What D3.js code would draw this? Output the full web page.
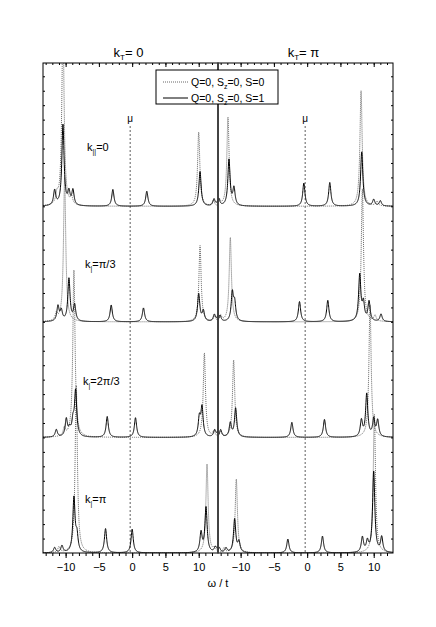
<!DOCTYPE html>
<html><head><meta charset="utf-8">
<script src="https://cdn.jsdelivr.net/npm/d3@7"></script>
<style>body{margin:0;background:#fff;} svg{display:block;font-family:"Liberation Sans",Arial,sans-serif;}</style>
</head><body><svg id="c" width="436" height="627"></svg>
<script>
// ---------- data ----------
const kTLabels = ["0", "π"];
const kParLabels = [["||", "=0"], ["|", "=π/3"], ["|", "=2π/3"], ["|", "=π"]];
const xMajorTicks = [-10, -5, 0, 5, 10];
const xMinorTicks = d3.range(-13, 13, 1);
const muPos = -0.3;
const spectrumOffsets = [3, 2, 1, 0];

// k_T = 0 : solid (S=1) peaks, positions and weights, one list per k_par
const solidPosKT0 = [
  [-11.65, -10.4, -9.5, -8.9, -2.9, 2.2, 10.2, 12.3, 12.9],
  [-11.15, -10.65, -9.5, -8.65, -3.15, 1.7, 10.0, 10.7, 12.35, 12.9],
  [-11.4, -9.9, -9.4, -8.9, -8.5, -3.75, 0.5, 10.1, 10.5, 12.4, 12.9],
  [-11.65, -10.55, -8.75, -8.3, -4.0, 0.0, 10.35, 11.1, 12.5, 12.9]
];
const solidAmpKT0 = [
  [0.13, 0.7, 0.11, 0.13, 0.145, 0.13, 0.3, 0.06, 0.045],
  [0.13, 0.09, 0.37, 0.14, 0.145, 0.12, 0.24, 0.09, 0.06, 0.045],
  [0.065, 0.15, 0.06, 0.12, 0.39, 0.18, 0.17, 0.16, 0.25, 0.06, 0.045],
  [0.045, 0.06, 0.47, 0.14, 0.21, 0.205, 0.17, 0.39, 0.045, 0.035]
];
// k_T = 0 : dotted (S=0) peaks
const dotPosKT0 = [
  [-11.3, -10.4, -9.1, 10.0, 12.2],
  [-11.4, -10.15, 10.2, 12.4],
  [-10.2, -8.75, 10.85, 12.3],
  [-11.0, -8.4, 11.25, 12.4]
];
const dotAmpKT0 = [
  [0.08, 1.6, 0.06, 0.64, 0.05],
  [0.06, 1.25, 0.66, 0.05],
  [0.07, 1.45, 0.73, 0.05],
  [0.05, 1.45, 0.77, 0.04]
];
// k_T = pi : solid peaks
const solidPosKTpi = [
  [-13.3, -11.75, -11.0, -0.5, 3.4, 8.2, 10.0, 11.0],
  [-13.1, -11.25, -10.9, -1.15, 3.1, 7.9, 8.45, 9.3, 11.1],
  [-13.0, -11.55, -10.75, -2.3, 2.6, 8.15, 8.95, 10.0, 10.6],
  [-13.2, -12.2, -10.9, -10.25, -2.9, 2.3, 8.3, 9.05, 10.0, 11.2]
];
const solidAmpKTpi = [
  [0.065, 0.4, 0.15, 0.2, 0.205, 0.47, 0.055, 0.045],
  [0.055, 0.24, 0.15, 0.175, 0.185, 0.4, 0.15, 0.17, 0.065],
  [0.065, 0.12, 0.25, 0.13, 0.155, 0.14, 0.37, 0.15, 0.14],
  [0.045, 0.04, 0.29, 0.09, 0.12, 0.145, 0.13, 0.09, 0.7, 0.13]
];
// k_T = pi : dotted peaks
const dotPosKTpi = [
  [-13.2, -11.9, 8.1, 10.5],
  [-13.0, -11.55, 8.3, 10.2],
  [-13.0, -11.05, 9.45],
  [-12.5, -10.65, 10.1]
];
const dotAmpKTpi = [
  [0.05, 0.77, 1.0, 0.04],
  [0.05, 0.73, 1.15, 0.05],
  [0.05, 0.67, 1.15],
  [0.04, 0.64, 1.2]
];

// ---------- layout ----------
const frame = {left: 43, right: 393, top: 63, bottom: 553};
const mid = 218;
const xDomain = [-13.4, 12.9];
const yMax = 4.24;
const gamma = 0.2;

const svg = d3.select("#c");
const y = d3.scaleLinear().domain([0, yMax]).range([frame.bottom, frame.top]);
const omegas = d3.range(xDomain[0], xDomain[1] + 0.0001, 0.02);
function spectrum(pos, amp) {
  return omegas.map(w => [w, d3.sum(pos, (p, i) => amp[i] * gamma * gamma / ((w - p) * (w - p) + gamma * gamma))]);
}

const panelData = [
  {solidPos: solidPosKT0, solidAmp: solidAmpKT0, dotPos: dotPosKT0, dotAmp: dotAmpKT0},
  {solidPos: solidPosKTpi, solidAmp: solidAmpKTpi, dotPos: dotPosKTpi, dotAmp: dotAmpKTpi}
];

const defs = svg.append("defs");

panelData.forEach((pd, pi) => {
  const x0 = pi === 0 ? frame.left : mid;
  const x1 = pi === 0 ? mid : frame.right;
  const x = d3.scaleLinear().domain(xDomain).range([x0, x1]);
  const g = svg.append("g");
  defs.append("clipPath").attr("id", "clip" + pi).append("rect")
    .attr("x", x0).attr("y", frame.top).attr("width", x1 - x0).attr("height", frame.bottom - frame.top);
  const plot = g.append("g").attr("clip-path", `url(#clip${pi})`);

  // mu dashed line
  plot.append("line").attr("x1", x(muPos)).attr("x2", x(muPos))
    .attr("y1", 126).attr("y2", frame.bottom)
    .attr("stroke", "#333").attr("stroke-width", 0.8).attr("stroke-dasharray", "2,2");
  g.append("text").attr("x", x(muPos)).attr("y", 122).attr("text-anchor", "middle")
    .attr("font-size", 10).text("μ");

  const lineFor = off => d3.line().x(d => x(d[0])).y(d => y(d[1] + off));
  pd.dotPos.forEach((pos, k) => {
    plot.append("path").datum(spectrum(pos, pd.dotAmp[k]))
      .attr("d", lineFor(spectrumOffsets[k])).attr("fill", "none")
      .attr("stroke", "#666").attr("stroke-width", 1).attr("stroke-dasharray", "1,1");
  });
  pd.solidPos.forEach((pos, k) => {
    plot.append("path").datum(spectrum(pos, pd.solidAmp[k]))
      .attr("d", lineFor(spectrumOffsets[k])).attr("fill", "none")
      .attr("stroke", "#000").attr("stroke-width", 1);
  });

  // bottom axis
  const axB = g.append("g").attr("transform", `translate(0,${frame.bottom})`)
    .call(d3.axisBottom(x).tickValues(xMajorTicks).tickSize(5).tickPadding(5).tickFormat(d3.format("d")));
  axB.select(".domain").remove();
  axB.selectAll("text").attr("font-size", 11).attr("font-family", "Liberation Sans, Arial, sans-serif").attr("fill", "#000");
  axB.selectAll("line").attr("stroke", "#000");
  const axBm = g.append("g").attr("transform", `translate(0,${frame.bottom})`)
    .call(d3.axisBottom(x).tickValues(xMinorTicks).tickSize(3).tickFormat(""));
  axBm.select(".domain").remove();
  // top axis (inward)
  const axT = g.append("g").attr("transform", `translate(0,${frame.top})`)
    .call(d3.axisBottom(x).tickValues(xMajorTicks).tickSize(4).tickFormat(""));
  axT.select(".domain").remove();
  const axTm = g.append("g").attr("transform", `translate(0,${frame.top})`)
    .call(d3.axisBottom(x).tickValues(xMinorTicks).tickSize(2).tickFormat(""));
  axTm.select(".domain").remove();

  // frame
  g.append("rect").attr("x", x0).attr("y", frame.top).attr("width", x1 - x0)
    .attr("height", frame.bottom - frame.top).attr("fill", "none").attr("stroke", "#000").attr("stroke-width", 1);

  // title
  const t = svg.append("text").attr("x", (x0 + x1) / 2 - 2).attr("y", 57)
    .attr("text-anchor", "middle").attr("font-size", 13);
  t.append("tspan").text("k");
  t.append("tspan").attr("font-size", 8).attr("dy", 3).text("T");
  t.append("tspan").attr("dy", -3).text("= " + kTLabels[pi]);
});

// outer y ticks (inward)
const yTickVals = d3.range(0.125, yMax, 0.125);
const axL = svg.append("g").attr("transform", `translate(${frame.left},0)`)
  .call(d3.axisRight(y).tickValues(yTickVals).tickSize(2).tickFormat(""));
axL.select(".domain").remove();
const axR = svg.append("g").attr("transform", `translate(${frame.right},0)`)
  .call(d3.axisLeft(y).tickValues(yTickVals).tickSize(2).tickFormat(""));
axR.select(".domain").remove();

// divider
svg.append("line").attr("x1", mid).attr("x2", mid).attr("y1", frame.top).attr("y2", frame.bottom)
  .attr("stroke", "#444").attr("stroke-width", 1.5);

// k_par labels
const labelY = [151, 268, 385, 503];
const labelX = [87, 85, 83, 85];
kParLabels.forEach((lab, i) => {
  const t = svg.append("text").attr("x", labelX[i]).attr("y", labelY[i]).attr("font-size", 11);
  t.append("tspan").text("k");
  t.append("tspan").attr("font-size", 7).attr("dy", 3).text(lab[0]);
  t.append("tspan").attr("dy", -3).text(lab[1]);
});

// legend
const lg = svg.append("g");
lg.append("rect").attr("x", 156).attr("y", 70).attr("width", 122).attr("height", 34)
  .attr("fill", "#fff").attr("stroke", "#000").attr("stroke-width", 1);
const legendItems = [["0", "1,1", "#666", 82], ["1", null, "#000", 98]];
legendItems.forEach(([s, dash, col, yy]) => {
  const ln = lg.append("line").attr("x1", 163).attr("x2", 188).attr("y1", yy).attr("y2", yy)
    .attr("stroke", col).attr("stroke-width", 1);
  if (dash) ln.attr("stroke-dasharray", dash);
  const t = lg.append("text").attr("x", 191).attr("y", yy + 3.5).attr("font-size", 10.5);
  t.append("tspan").text("Q=0, S");
  t.append("tspan").attr("font-size", 7).attr("dy", 3).text("z");
  t.append("tspan").attr("dy", -3).text("=0, S=" + s);
});

// x axis title
svg.append("text").attr("x", 218).attr("y", 587).attr("text-anchor", "middle")
  .attr("font-size", 11).text("ω / t");
</script></body></html>
